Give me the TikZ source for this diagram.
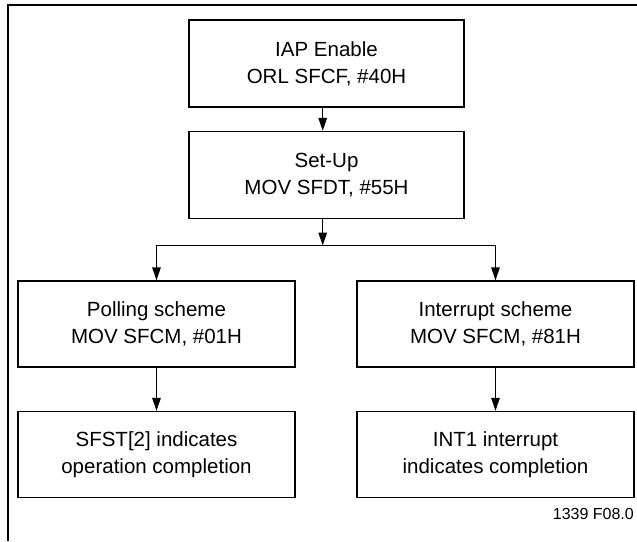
\documentclass[tikz,border=0pt]{standalone}
\usepackage{fontspec}
\setmainfont{Liberation Sans}
\usetikzlibrary{arrows.meta}

\begin{document}
\begin{tikzpicture}[x=1pt, y=-1pt,
    stepbox/.style={draw, line width=1.3pt, align=center, inner sep=0pt,
        font=\fontsize{20.5}{27}\selectfont},
    topbox/.style={stepbox, minimum width=275pt, minimum height=87pt},
    lowbox/.style={stepbox, minimum width=277pt, minimum height=86pt},
    flow/.style={line width=1.3pt, -{Triangle[length=13pt,width=8.5pt]}}]
\useasboundingbox (0,0) rectangle (637,541);
% frame
\draw [line width=2pt] (637,5) -- (7.5,5) -- (7.5,541);
%
\node [topbox] (enable) at (326.5,63.5) {IAP Enable\\ORL SFCF, \#40H};
\node [topbox] (setup) at (326.5,175) {Set-Up\\MOV SFDT, \#55H};
\node [lowbox] (poll) at (156.5,324) {Polling scheme\\MOV SFCM, \#01H};
\node [lowbox] (intr) at (495.5,324) {Interrupt scheme\\MOV SFCM, \#81H};
\node [lowbox] (sfst) at (156.5,454.5) {SFST[2] indicates\\operation completion};
\node [lowbox] (int1) at (495.5,454.5) {INT1 interrupt\\indicates completion};
%
\coordinate (split) at (322.7,245.5);
\draw [flow] ([xshift=-3.8pt]enable.south) -- ([xshift=-3.8pt]setup.north);
\draw [flow] ([xshift=-3.8pt]setup.south) -- (split);
\draw [flow] (split) -| (poll.north);
\draw [flow] (split) -| (intr.north);
\draw [flow] (poll) -- (sfst);
\draw [flow] (intr) -- (int1);
%
\node [anchor=base east, inner sep=0pt, font=\fontsize{16}{18}\selectfont] (figid)
    at (634,519) {1339 F08.0};
\end{tikzpicture}
\end{document}
